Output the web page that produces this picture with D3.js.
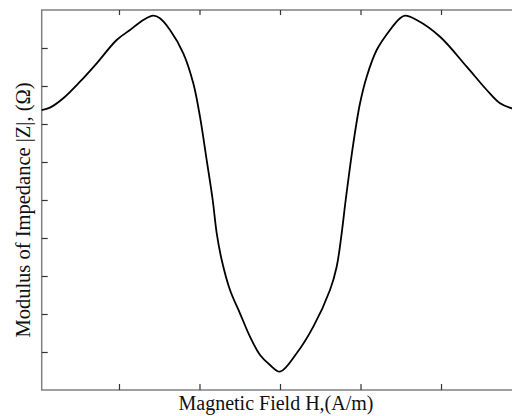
<!DOCTYPE html>
<html><head><meta charset="utf-8">
<script src="https://cdn.jsdelivr.net/npm/d3@7/dist/d3.min.js"></script>
<style>html,body{margin:0;padding:0;background:#fff;overflow:hidden}svg{display:block}</style>
</head><body>
<script>
// Data (field H in tick units, |Z| in tick units)
const fieldH = [-2.96,-2.857,-2.692,-2.484,-2.277,-2.029,-1.863,-1.698,-1.574,-1.491,-1.366,-1.201,-1.077,-0.994,-0.911,-0.836,-0.786,-0.724,-0.621,-0.497,-0.373,-0.248,-0.124,0,
  0.207,0.414,0.621,0.704,0.766,0.816,0.911,0.994,1.077,1.201,1.366,1.491,1.553,1.698,1.988,2.319,2.568,2.733,2.878,2.96];
const impedance = [7.368,7.43,7.676,8.113,8.597,9.211,9.474,9.737,9.850,9.782,9.474,8.861,8.071,7.192,6.053,5.0,4.124,3.421,2.632,2.018,1.403,0.921,0.658,0.482,
  0.966,1.666,2.632,3.245,4.124,5.0,6.492,7.545,8.245,8.947,9.474,9.782,9.850,9.737,9.297,8.508,7.895,7.545,7.413,7.37];
const xTicks = [-2,-1,0,1,2];
const yTicks = [1,2,3,4,5,6,7,8,9];
const xLabel = "Magnetic Field H,(A/m)";
const yLabel = "Modulus of Impedance |Z|, (\u03A9)";

(function(){
const W = 512, H = 416;
const mLeft = 41.7, mTop = 10, mBottom = 390, mRight = 518.3;
const svg = d3.select("body").append("svg").attr("width", W).attr("height", H);

const x = d3.scaleLinear().domain([-2.96, 2.96]).range([mLeft, mRight]);
const y = d3.scaleLinear().domain([0, 10]).range([mBottom, mTop]);

const axisColor = "#808080";
svg.append("rect").attr("x", mLeft).attr("y", mTop).attr("width", mRight-mLeft).attr("height", mBottom-mTop)
  .attr("fill","none").attr("stroke", axisColor).attr("stroke-width", 1.5);

const styleAxis = g => { g.select(".domain").remove(); g.selectAll(".tick text").remove();
  g.selectAll(".tick line").attr("stroke","#333").attr("stroke-width",1.2); };
svg.append("g").attr("transform",`translate(0,${mBottom})`).call(d3.axisBottom(x).tickValues(xTicks).tickSize(-6)).call(styleAxis);
svg.append("g").attr("transform",`translate(0,${mTop})`).call(d3.axisTop(x).tickValues(xTicks).tickSize(-5)).call(styleAxis);
svg.append("g").attr("transform",`translate(${mLeft},0)`).call(d3.axisLeft(y).tickValues(yTicks).tickSize(-6)).call(styleAxis);

const data = fieldH.map((h,i)=>[h, impedance[i]]);
svg.append("path").datum(data)
  .attr("d", d3.line().x(d=>x(d[0])).y(d=>y(d[1])).curve(d3.curveCatmullRom.alpha(0.5)))
  .attr("fill","none").attr("stroke","#000").attr("stroke-width",1.8);

svg.append("text").attr("x", 276).attr("y", 410).attr("text-anchor","middle")
  .attr("font-family","'Liberation Serif', 'Times New Roman', serif").attr("font-size",20).attr("fill","#111").text(xLabel);
svg.append("text").attr("transform","translate(30,210) rotate(-90)").attr("text-anchor","middle")
  .attr("font-family","'Liberation Serif', 'Times New Roman', serif").attr("font-size",20.5).attr("fill","#111").text(yLabel);
})();
</script>
</body></html>
